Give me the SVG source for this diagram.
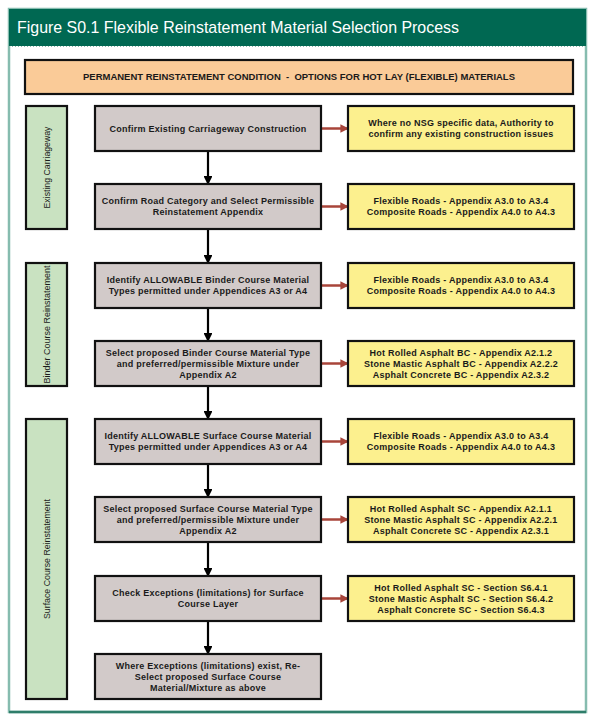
<svg xmlns="http://www.w3.org/2000/svg" width="596" height="724" viewBox="0 0 596 724">
<style>
.frame{fill:#ffffff;stroke:#86bcaf;stroke-width:2.5}
.hdr{fill:#006852}
.title{font-family:"Liberation Sans",Arial,sans-serif;font-size:17px;fill:#ffffff}
.banner{fill:#facb98;stroke:#111;stroke-width:2.2}
.lbl{fill:#c9e2c1;stroke:#111;stroke-width:2.2}
.node{fill:#d2cac9;stroke:#111;stroke-width:2.2}
.info{fill:#fcf08e;stroke:#111;stroke-width:2.2}
.t{font-family:"Liberation Sans",Arial,sans-serif;font-size:9px;font-weight:bold;fill:#1a1a1a;text-anchor:middle;letter-spacing:0.25px}
.bt{font-family:"Liberation Sans",Arial,sans-serif;font-size:8.5px;font-weight:bold;fill:#1a1a1a;text-anchor:middle;white-space:pre}
.lt{font-family:"Liberation Sans",Arial,sans-serif;font-size:9px;fill:#1a1a1a;text-anchor:middle}
.down{stroke:#000;stroke-width:2.2;fill:none;marker-end:url(#ah)}
.side{stroke:#a8453a;stroke-width:2.5;fill:none;marker-end:url(#ahr)}
</style>
<defs>
<marker id="ah" viewBox="0 0 10 10" refX="9" refY="5" markerWidth="4" markerHeight="4" orient="auto" markerUnits="strokeWidth"><path d="M0,0 L10,5 L0,10 z" fill="#000"/></marker>
<marker id="ahr" viewBox="0 0 10 10" refX="9" refY="5" markerWidth="3.4" markerHeight="3.4" orient="auto" markerUnits="strokeWidth"><path d="M0,0 L10,5 L0,10 z" fill="#a8453a"/></marker>
</defs>
<rect x="0" y="0" width="596" height="724" fill="#ffffff"/>
<g id="frame">
<rect class="frame" x="9" y="9" width="577" height="703"/>
<rect class="hdr" x="9" y="9" width="577" height="37"/>
<line x1="9" y1="46.5" x2="586" y2="46.5" stroke="#8fb8ac" stroke-width="1" stroke-dasharray="1 2"/>
<line x1="9" y1="712" x2="586" y2="712" stroke="#2f7d6a" stroke-width="2.5"/>
<text class="title" x="17" y="33" textLength="442" lengthAdjust="spacingAndGlyphs">Figure S0.1 Flexible Reinstatement Material Selection Process</text>
</g>
<g id="banner">
<rect class="banner" x="25" y="60" width="548" height="34"/>
<text class="bt" x="299" y="80" textLength="432" lengthAdjust="spacingAndGlyphs">PERMANENT REINSTATEMENT CONDITION  -  OPTIONS FOR HOT LAY (FLEXIBLE) MATERIALS</text>
</g>
<g id="label-existing">
<rect class="lbl" x="26" y="106" width="41" height="123"/>
<text class="lt" transform="translate(49.5,167.5) rotate(-90)" textLength="82" lengthAdjust="spacingAndGlyphs">Existing Carriageway</text>
</g>
<g id="label-binder">
<rect class="lbl" x="26" y="263" width="41" height="123"/>
<text class="lt" transform="translate(49.5,324.5) rotate(-90)" textLength="118" lengthAdjust="spacingAndGlyphs">Binder Course Reinstatement</text>
</g>
<g id="label-surface">
<rect class="lbl" x="26" y="419" width="41" height="280"/>
<text class="lt" transform="translate(49.5,559) rotate(-90)" textLength="120" lengthAdjust="spacingAndGlyphs">Surface Course Reinstatement</text>
</g>
<g id="connectors">
<line class="down" x1="208" y1="151" x2="208" y2="184"/>
<line class="down" x1="208" y1="229" x2="208" y2="263"/>
<line class="down" x1="208" y1="308" x2="208" y2="341"/>
<line class="down" x1="208" y1="386" x2="208" y2="419"/>
<line class="down" x1="208" y1="464" x2="208" y2="497"/>
<line class="down" x1="208" y1="542" x2="208" y2="576"/>
<line class="down" x1="208" y1="621" x2="208" y2="654"/>
<line class="side" x1="321" y1="128.5" x2="348" y2="128.5"/>
<line class="side" x1="321" y1="206.5" x2="348" y2="206.5"/>
<line class="side" x1="321" y1="285.5" x2="348" y2="285.5"/>
<line class="side" x1="321" y1="363.5" x2="348" y2="363.5"/>
<line class="side" x1="321" y1="441.5" x2="348" y2="441.5"/>
<line class="side" x1="321" y1="519.5" x2="348" y2="519.5"/>
<line class="side" x1="321" y1="598.5" x2="348" y2="598.5"/>
</g>
<g id="node1">
<rect class="node" x="95" y="106" width="226" height="45"/>
<text class="t" x="208" y="131.5">Confirm Existing Carriageway Construction</text>
</g>
<g id="node2">
<rect class="node" x="95" y="184" width="226" height="45"/>
<text class="t" x="208" y="204">Confirm Road Category and Select Permissible<tspan x="208" dy="11">Reinstatement Appendix</tspan></text>
</g>
<g id="node3">
<rect class="node" x="95" y="263" width="226" height="45"/>
<text class="t" x="208" y="283">Identify ALLOWABLE Binder Course Material<tspan x="208" dy="11">Types permitted under Appendices A3 or A4</tspan></text>
</g>
<g id="node4">
<rect class="node" x="95" y="341" width="226" height="45"/>
<text class="t" x="208" y="355.5">Select proposed Binder Course Material Type<tspan x="208" dy="11">and preferred/permissible Mixture under</tspan><tspan x="208" dy="11">Appendix A2</tspan></text>
</g>
<g id="node5">
<rect class="node" x="95" y="419" width="226" height="45"/>
<text class="t" x="208" y="439">Identify ALLOWABLE Surface Course Material<tspan x="208" dy="11">Types permitted under Appendices A3 or A4</tspan></text>
</g>
<g id="node6">
<rect class="node" x="95" y="497" width="226" height="45"/>
<text class="t" x="208" y="511.5">Select proposed Surface Course Material Type<tspan x="208" dy="11">and preferred/permissible Mixture under</tspan><tspan x="208" dy="11">Appendix A2</tspan></text>
</g>
<g id="node7">
<rect class="node" x="95" y="576" width="226" height="45"/>
<text class="t" x="208" y="596">Check Exceptions (limitations) for Surface<tspan x="208" dy="11">Course Layer</tspan></text>
</g>
<g id="node8">
<rect class="node" x="95" y="654" width="226" height="45"/>
<text class="t" x="208" y="668.5">Where Exceptions (limitations) exist, Re-<tspan x="208" dy="11">Select proposed Surface Course</tspan><tspan x="208" dy="11">Material/Mixture as above</tspan></text>
</g>
<g id="info1">
<rect class="info" x="348" y="106" width="226" height="45"/>
<text class="t" x="461" y="126">Where no NSG specific data, Authority to<tspan x="461" dy="11">confirm any existing construction issues</tspan></text>
</g>
<g id="info2">
<rect class="info" x="348" y="184" width="226" height="45"/>
<text class="t" x="461" y="204">Flexible Roads - Appendix A3.0 to A3.4<tspan x="461" dy="11">Composite Roads - Appendix A4.0 to A4.3</tspan></text>
</g>
<g id="info3">
<rect class="info" x="348" y="263" width="226" height="45"/>
<text class="t" x="461" y="283">Flexible Roads - Appendix A3.0 to A3.4<tspan x="461" dy="11">Composite Roads - Appendix A4.0 to A4.3</tspan></text>
</g>
<g id="info4">
<rect class="info" x="348" y="341" width="226" height="45"/>
<text class="t" x="461" y="355.5">Hot Rolled Asphalt BC - Appendix A2.1.2<tspan x="461" dy="11">Stone Mastic Asphalt BC - Appendix A2.2.2</tspan><tspan x="461" dy="11">Asphalt Concrete BC - Appendix A2.3.2</tspan></text>
</g>
<g id="info5">
<rect class="info" x="348" y="419" width="226" height="45"/>
<text class="t" x="461" y="439">Flexible Roads - Appendix A3.0 to A3.4<tspan x="461" dy="11">Composite Roads - Appendix A4.0 to A4.3</tspan></text>
</g>
<g id="info6">
<rect class="info" x="348" y="497" width="226" height="45"/>
<text class="t" x="461" y="511.5">Hot Rolled Asphalt SC - Appendix A2.1.1<tspan x="461" dy="11">Stone Mastic Asphalt SC - Appendix A2.2.1</tspan><tspan x="461" dy="11">Asphalt Concrete SC - Appendix A2.3.1</tspan></text>
</g>
<g id="info7">
<rect class="info" x="348" y="576" width="226" height="45"/>
<text class="t" x="461" y="590.5">Hot Rolled Asphalt SC - Section S6.4.1<tspan x="461" dy="11">Stone Mastic Asphalt SC - Section S6.4.2</tspan><tspan x="461" dy="11">Asphalt Concrete SC - Section S6.4.3</tspan></text>
</g>
</svg>
